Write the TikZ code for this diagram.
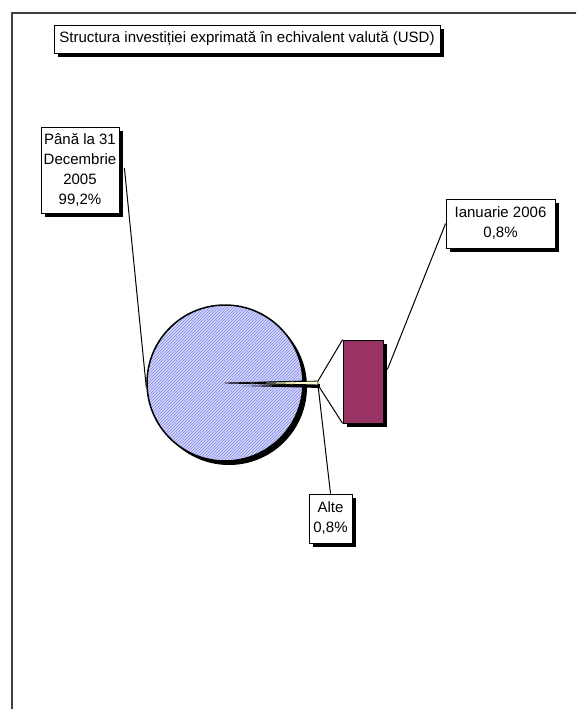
\documentclass[tikz,border=0pt]{standalone}
\usepackage{fontspec}
\setmainfont{Liberation Sans}
\usetikzlibrary{shadows,patterns}
\definecolor{piefill}{RGB}{212,215,250}
\definecolor{piehatch}{RGB}{130,138,230}
\definecolor{barfill}{RGB}{153,51,102}
\definecolor{wedgefill}{RGB}{255,255,204}
\begin{document}
\begin{tikzpicture}[x=1pt, y=-1pt,
  boxshadow/.style={drop shadow={shadow xshift=4pt, shadow yshift=-4pt, fill=black, opacity=1}},
  labelbox/.style={draw=black, fill=white, line width=0.8pt, align=center, inner sep=0pt,
    font=\fontsize{15}{20}\selectfont, boxshadow},
  leader/.style={line width=1pt}]
  \clip (0,0) rectangle (576,709);
  \fill[white] (0,0) rectangle (576,709);
  \draw[line width=2pt, black!75] (12,13) rectangle (640,760);
  % Labels
  \node[labelbox, minimum width=386pt, minimum height=28pt] at (247,39) (title) {Structura investiției exprimată în echivalent valută (USD)};
  \node[labelbox, minimum width=78pt, minimum height=86pt] at (80,170) (dec) {Până la 31\\Decembrie\\2005\\99,2\%};
  \node[labelbox, minimum width=109pt, minimum height=49pt] at (500.5,223.5) (ian) {Ianuarie 2006\\0,8\%};
  \node[labelbox, minimum width=43pt, minimum height=49pt] at (330.5,518.5) (alte) {Alte\\0,8\%};
  % Pie and bar
  \node[circle, draw, line width=1.5pt, minimum size=156pt, inner sep=0pt,
    drop shadow={shadow xshift=4pt, shadow yshift=-4pt, fill=black, opacity=1},
    preaction={fill=piefill}, pattern=north east lines, pattern color=piehatch] at (225,383) (pie) {};
  \draw[line width=0.8pt] (pie.center) -- ++(-1.44:78) (pie.center) -- ++(1.44:78);
  \coordinate (wc) at (240,383);
  \filldraw[fill=wedgefill, line width=0.8pt, drop shadow={shadow xshift=2pt, shadow yshift=-3pt, fill=black, opacity=1}]
    (wc) -- ++(-1.44:78) coordinate (tiptop) arc[start angle=-1.44, end angle=1.44, radius=78] coordinate (tipbot) -- cycle;
  \node[draw, fill=barfill, line width=0.8pt, minimum width=40pt, minimum height=83pt, inner sep=0pt, boxshadow] at (363,381.5) (bar) {};
  % Lines
  \draw[leader] (tiptop) -- (bar.north west);
  \draw[leader] (tipbot) -- (bar.south west);
  \draw[leader] ([xshift=5pt, yshift=2pt]dec.east) -- ([yshift=-4pt]pie.west);
  \draw[leader] (ian.west) -- ([xshift=4pt, yshift=12pt]bar.east);
  \draw[leader] (alte.north) -- (tipbot);
\end{tikzpicture}
\end{document}
